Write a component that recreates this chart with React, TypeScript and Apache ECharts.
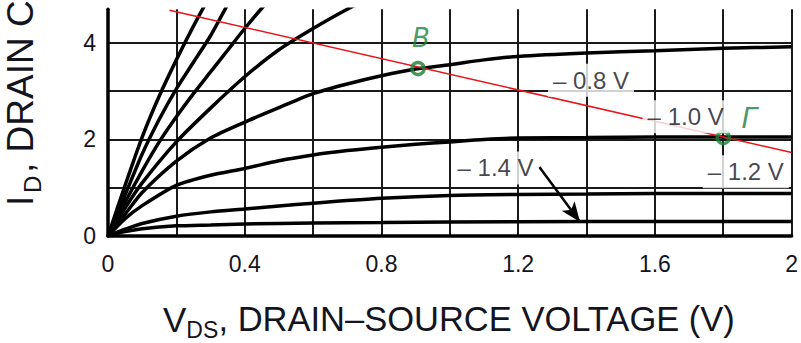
import React, { useEffect, useRef } from 'react';
import * as echarts from 'echarts';

// Labelled tick values
const xTickLabels = [0, 0.4, 0.8, 1.2, 1.6, 2];
const yTickLabels = [0, 2, 4];

// Output characteristic curves [V_DS, I_D]
const curveE1: number[][] = [[0, 0], [0.05, 1.05], [0.1, 2.05], [0.15, 2.9], [0.2, 3.65], [0.25, 4.35], [0.3, 5.0]];
const curveE2: number[][] = [[0, 0], [0.05, 0.85], [0.1, 1.7], [0.15, 2.42], [0.2, 3.05], [0.25, 3.6], [0.3, 4.15], [0.35, 4.8]];
const curveE3: number[][] = [[0, 0], [0.05, 0.7], [0.1, 1.35], [0.15, 1.95], [0.2, 2.47], [0.25, 2.95], [0.3, 3.4], [0.35, 3.85], [0.4, 4.3], [0.45, 4.72], [0.5, 5.1]];
const curveF: number[][] = [[0, 0], [0.05, 0.58], [0.1, 1.1], [0.2, 1.95], [0.3, 2.65], [0.4, 3.3], [0.5, 3.86], [0.6, 4.3], [0.7, 4.7], [0.8, 5.05]];
const curveA: number[][] = [[0, 0], [0.05, 0.45], [0.1, 0.9], [0.2, 1.55], [0.3, 2.03], [0.4, 2.36], [0.5, 2.66], [0.6, 2.95], [0.7, 3.15], [0.8, 3.32], [0.9, 3.46], [1.0, 3.55], [1.1, 3.65], [1.2, 3.72], [1.4, 3.79], [1.6, 3.84], [1.8, 3.89], [2.0, 3.92]];
const curveB: number[][] = [[0, 0], [0.05, 0.36], [0.1, 0.63], [0.2, 1.05], [0.3, 1.26], [0.4, 1.4], [0.5, 1.56], [0.6, 1.68], [0.7, 1.77], [0.8, 1.84], [0.9, 1.9], [1.0, 1.95], [1.1, 2.0], [1.2, 2.03], [1.4, 2.04], [1.6, 2.05], [1.8, 2.05], [2.0, 2.05]];
const curveC: number[][] = [[0, 0], [0.05, 0.14], [0.1, 0.26], [0.2, 0.41], [0.3, 0.5], [0.4, 0.56], [0.5, 0.62], [0.6, 0.68], [0.8, 0.78], [1.0, 0.84], [1.2, 0.86], [1.4, 0.87], [1.6, 0.88], [2.0, 0.88]];
const curveD: number[][] = [[0, 0], [0.05, 0.09], [0.1, 0.15], [0.2, 0.21], [0.3, 0.23], [0.4, 0.25], [0.6, 0.27], [0.8, 0.28], [1.0, 0.29], [1.4, 0.3], [2.0, 0.3]];

// Red load line
const loadLine: number[][] = [[0.18, 4.68], [2.0, 1.73]];

// Green marked operating points
const opPoints: [number, number, string][] = [[0.907, 3.47, 'B'], [1.8, 2.04, 'Γ']];

// Gate-voltage labels (anchor in data coordinates)
const vgsLabels: [number, number, string][] = [
  [1.413, 3.23, '\u2013 0.8 V'],
  [1.69, 2.47, '\u2013 1.0 V'],
  [1.866, 1.33, '\u2013 1.2 V'],
  [1.134, 1.41, '\u2013 1.4 V'],
];

// Arrow from the "-1.4 V" label to its curve
const arrowLine: number[][] = [[1.262, 1.43], [1.381, 0.29]];

export default function App() {
  const ref = useRef<HTMLDivElement>(null);
  useEffect(() => {
    document.body.style.margin = '0';
    const chart = echarts.init(ref.current!, null, { renderer: 'svg' });
    const font = '"Liberation Sans", Arial, sans-serif';
    const green = '#1b7f35';
    const ink = '#141420';
    const curves = [curveE1, curveE2, curveE3, curveF, curveA, curveB, curveC, curveD];
    const isTick = (arr: number[], v: number) => arr.some((t) => Math.abs(t - v) < 1e-6);
    const greenOffsets = [[3, -31], [26, -19]];

    chart.setOption({
      animation: false,
      backgroundColor: '#ffffff',
      grid: { left: 108, right: 5, top: 9.2, bottom: 107, containLabel: false },
      xAxis: {
        type: 'value',
        min: 0,
        max: 2,
        interval: 0.2,
        axisLine: { show: true, onZero: false, lineStyle: { color: '#000', width: 3.5 } },
        axisTick: { show: false },
        axisLabel: {
          margin: 16,
          fontSize: 23,
          color: ink,
          fontFamily: font,
          formatter: (v: number) => (isTick(xTickLabels, v) ? String(+v.toFixed(1)) : ''),
        },
        splitLine: { show: true, lineStyle: { color: '#1a1a1a', width: 2 } },
      },
      yAxis: {
        type: 'value',
        min: 0,
        max: 4.7,
        interval: 1,
        axisLine: { show: true, onZero: false, lineStyle: { color: '#000', width: 3.5 } },
        axisTick: { show: false },
        axisLabel: {
          margin: 12,
          fontSize: 23,
          color: ink,
          fontFamily: font,
          formatter: (v: number) => (isTick(yTickLabels, v) ? String(v) : ''),
        },
        splitLine: { show: true, showMaxLine: false, lineStyle: { color: '#1a1a1a', width: 2 } },
      },
      series: [
        ...curves.map((c) => ({
          type: 'line',
          data: c,
          smooth: 0.25,
          showSymbol: false,
          clip: true,
          z: 2,
          lineStyle: { color: '#000', width: 3.5 },
        })),
        {
          type: 'line',
          data: loadLine,
          showSymbol: false,
          clip: true,
          z: 3,
          lineStyle: { color: '#e8141a', width: 1.5 },
        },
        {
          type: 'scatter',
          z: 4,
          symbol: 'circle',
          symbolSize: 12,
          itemStyle: { color: 'rgba(0,0,0,0)', borderColor: green, borderWidth: 3.5 },
          data: opPoints.map((p, i) => ({
            value: [p[0], p[1]],
            label: {
              show: true,
              position: 'inside',
              offset: greenOffsets[i],
              formatter: p[2],
              color: green,
              fontSize: i === 0 ? 26 : 28,
              fontStyle: 'italic',
              fontFamily: '"DejaVu Sans", sans-serif',
            },
          })),
        },
        {
          type: 'scatter',
          z: 5,
          symbolSize: 1,
          itemStyle: { color: 'rgba(0,0,0,0)' },
          data: vgsLabels.map((l) => ({
            value: [l[0], l[1]],
            label: {
              show: true,
              position: 'inside',
              formatter: l[2],
              color: ink,
              fontSize: 24,
              fontFamily: font,
              backgroundColor: '#ffffff',
              padding: [5, 5, 4, 5],
            },
          })),
          markLine: {
            silent: true,
            symbol: ['none', 'arrow'],
            symbolSize: [12, 20],
            label: { show: false },
            lineStyle: { color: '#000', width: 2.5, type: 'solid' },
            data: [[{ coord: arrowLine[0] }, { coord: arrowLine[1] }]],
          },
        },
      ],
      graphic: [
        {
          type: 'group',
          x: 163,
          y: 319,
          children: [
            { type: 'text', x: 0, y: 0, style: { text: 'V', fontSize: 35, fontFamily: font, fill: ink, verticalAlign: 'middle', align: 'left' } },
            { type: 'text', x: 23.3, y: 11, style: { text: 'DS', fontSize: 23, fontFamily: font, fill: ink, verticalAlign: 'middle', align: 'left' } },
            { type: 'text', x: 55.5, y: 0, style: { text: ', DRAIN\u2013SOURCE VOLTAGE (V)', fontSize: 34.5, fontFamily: font, fill: ink, verticalAlign: 'middle', align: 'left' } },
          ],
        },
        {
          type: 'group',
          x: 20.5,
          y: 206,
          rotation: Math.PI / 2,
          children: [
            { type: 'text', x: 0, y: 0, style: { text: 'I', fontSize: 37, fontFamily: font, fill: ink, verticalAlign: 'middle', align: 'left' } },
            { type: 'text', x: 13, y: 12, style: { text: 'D', fontSize: 24, fontFamily: font, fill: ink, verticalAlign: 'middle', align: 'left' } },
            { type: 'text', x: 33, y: 0, style: { text: ', DRAIN CURRENT (A)', fontSize: 37, fontFamily: font, fill: ink, verticalAlign: 'middle', align: 'left' } },
          ],
        },
      ],
    });
    return () => chart.dispose();
  }, []);
  return <div ref={ref} style={{ width: 801, height: 343 }} />;
}
